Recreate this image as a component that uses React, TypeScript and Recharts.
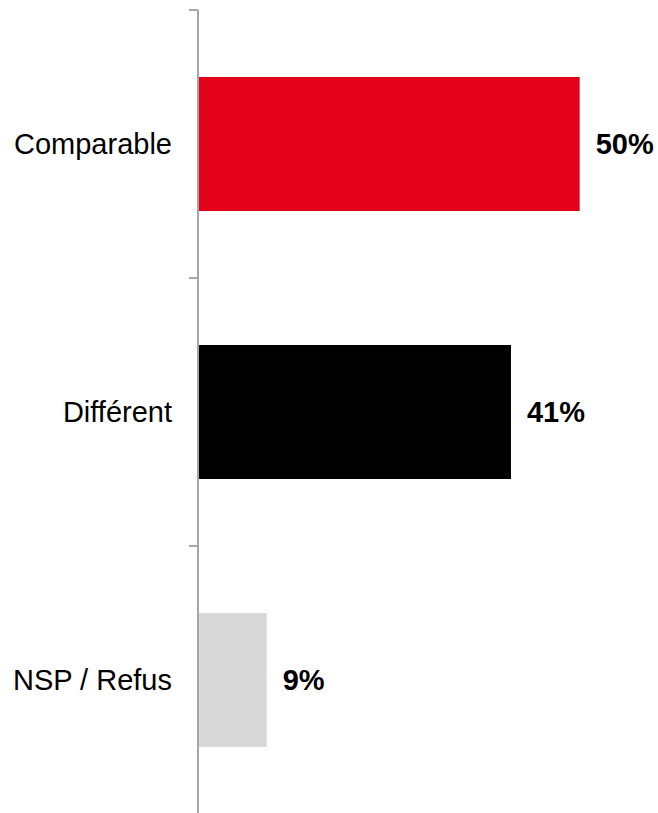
import React from 'react'
import { BarChart, Bar, XAxis, YAxis, Cell, LabelList } from 'recharts'

const categories = ['Comparable', 'Différent', 'NSP / Refus']
const values = [50, 41, 9]
const barColors = ['#e2001a', '#000000', '#d9d9d9']

const data = categories.map((name, i) => ({ name, value: values[i] }))

const FONT = '"Liberation Sans", Arial, sans-serif'
const AXIS_COLOR = '#a6a6a6'

// category label plus a tick mark on the band boundary above it
function CategoryTick(props: any) {
  const { x, y, payload } = props
  const half = payload && typeof payload.offset === 'number' ? payload.offset : 0
  return (
    <g>
      {half > 0 && (
        <line x1={x - 9} x2={x} y1={y - half} y2={y - half} stroke={AXIS_COLOR} strokeWidth={2} />
      )}
      <text
        x={x - 26}
        y={y}
        textAnchor="end"
        dominantBaseline="central"
        fontSize={29}
        fontFamily={FONT}
        fill="#000"
      >
        {payload.value}
      </text>
    </g>
  )
}

export default function App() {
  return (
    <div style={{ position: 'absolute', left: 0, top: 0, width: 658, height: 813, overflow: 'hidden', background: '#fff' }}>
      <BarChart
        width={658}
        height={820}
        data={data}
        layout="vertical"
        margin={{ top: 10, right: 2, bottom: 6, left: 0 }}
        barCategoryGap="25%"
      >
        <XAxis type="number" domain={[0, 60]} hide />
        <YAxis
          type="category"
          dataKey="name"
          width={198}
          tickLine={false}
          tickSize={0}
          tickMargin={0}
          axisLine={{ stroke: AXIS_COLOR, strokeWidth: 2 }}
          tick={<CategoryTick />}
          interval={0}
        />
        <Bar dataKey="value" isAnimationActive={false}>
          {data.map((_, idx) => (
            <Cell key={idx} fill={barColors[idx]} />
          ))}
          <LabelList
            dataKey="value"
            position="right"
            offset={16}
            formatter={(v: any) => `${v}%`}
            fill="#000"
            fontSize={29}
            fontWeight="bold"
            fontFamily={FONT}
          />
        </Bar>
      </BarChart>
    </div>
  )
}
